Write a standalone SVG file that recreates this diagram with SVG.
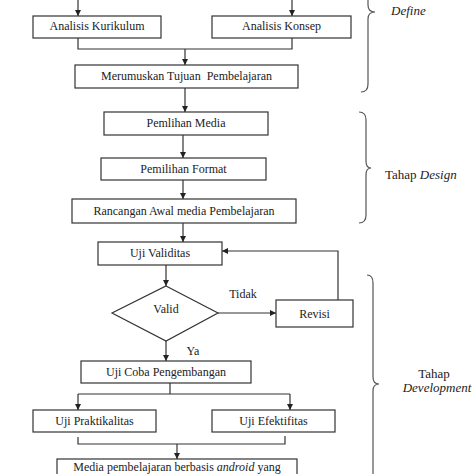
<svg xmlns="http://www.w3.org/2000/svg" width="474" height="474" viewBox="0 0 474 474">
<defs>
<style>
.box{fill:#fff;stroke:#333;stroke-width:1.2}
.t{font-family:"Liberation Serif","Times New Roman",serif;font-size:12px;fill:#222;text-anchor:middle}
.side{font-family:"Liberation Serif","Times New Roman",serif;font-size:13px;fill:#222}
.ln{fill:none;stroke:#333;stroke-width:1.2}
.arr{fill:none;stroke:#333;stroke-width:1.2;marker-end:url(#ah)}
.brace{fill:none;stroke:#555;stroke-width:1.2}
</style>
<marker id="ah" markerWidth="7" markerHeight="7" refX="6" refY="3" orient="auto" markerUnits="userSpaceOnUse">
<path d="M0,0 L6,3 L0,6 z" fill="#222"/>
</marker>
</defs>
<rect width="474" height="474" fill="#fff"/>
<g id="connectors">
<path class="arr" d="M78,0 L78,16"/>
<path class="arr" d="M292,0 L292,16"/>
<path class="ln" d="M78,38 L78,49 L292,49 L292,38"/>
<path class="arr" d="M185,49 L185,65"/>
<path class="arr" d="M185,88 L185,112"/>
<path class="arr" d="M183,135 L183,158"/>
<path class="arr" d="M183,180 L183,199"/>
<path class="arr" d="M183,223 L183,242"/>
<path class="arr" d="M166,265 L166,286"/>
<path class="arr" d="M218,313 L276,313"/>
<path class="arr" d="M338,300 L338,251 L222,251"/>
<path class="arr" d="M166,341 L166,361"/>
<path class="ln" d="M170,383 L170,394 M78,394 L290,394"/>
<path class="arr" d="M78,394 L78,410"/>
<path class="arr" d="M290,394 L290,410"/>
<path class="ln" d="M78,437 L78,444 L285,444 L285,436"/>
<path class="arr" d="M177,444 L177,459"/>
</g>
<g id="n-kurikulum"><rect class="box" x="33" y="16" width="128" height="22"/><text class="t" x="97" y="30">Analisis Kurikulum</text></g>
<g id="n-konsep"><rect class="box" x="212" y="16" width="139" height="22"/><text class="t" x="281.5" y="30">Analisis Konsep</text></g>
<g id="n-tujuan"><rect class="box" x="75" y="65" width="223" height="23"/><text class="t" x="186.5" y="80" xml:space="preserve">Merumuskan Tujuan  Pembelajaran</text></g>
<g id="n-media"><rect class="box" x="104" y="112" width="164" height="23"/><text class="t" x="186" y="127">Pemlihan Media</text></g>
<g id="n-format"><rect class="box" x="101" y="158" width="165" height="22"/><text class="t" x="183.5" y="173">Pemilihan Format</text></g>
<g id="n-rancangan"><rect class="box" x="72" y="199" width="224" height="24"/><text class="t" x="184" y="215">Rancangan Awal media Pembelajaran</text></g>
<g id="n-validitas"><rect class="box" x="98" y="242" width="124" height="23"/><text class="t" x="160" y="257">Uji Validitas</text></g>
<g id="n-valid"><path class="box" d="M166,286 L218,313 L166,341 L112,313 Z"/><text class="t" x="166" y="313">Valid</text></g>
<g id="n-revisi"><rect class="box" x="276" y="300" width="77" height="27"/><text class="t" x="314.5" y="318">Revisi</text></g>
<g id="labels"><text class="t" x="243" y="298">Tidak</text><text class="t" x="193" y="355">Ya</text></g>
<g id="n-ujicoba"><rect class="box" x="81" y="361" width="170" height="22"/><text class="t" x="166" y="376">Uji Coba Pengembangan</text></g>
<g id="n-praktikalitas"><rect class="box" x="33" y="410" width="123" height="22"/><text class="t" x="94.5" y="425">Uji Praktikalitas</text></g>
<g id="n-efektifitas"><rect class="box" x="212" y="410" width="123" height="22"/><text class="t" x="273.5" y="425">Uji Efektifitas</text></g>
<g id="n-final"><rect class="box" x="57" y="459" width="240" height="40"/><text class="t" x="177" y="471">Media pembelajaran berbasis <tspan font-style="italic">android</tspan> yang</text></g>
<g id="stages">
<path class="brace" d="M368,-10 L368,5 Q368,12 375,12 Q368,12 368,19 L368,84 Q368,92 361,92"/>
<text class="side" x="391" y="15" font-style="italic">Define</text>
<path class="brace" d="M359,112 Q366,112 366,120 L366,161 Q366,168 371,168 Q366,168 366,175 L366,215 Q366,223 359,223"/>
<text class="side" x="385" y="179">Tahap <tspan font-style="italic">Design</tspan></text>
<path class="brace" d="M367,275 Q373,275 373,283 L373,377 Q373,384 379,384 Q373,384 373,391 L373,480"/>
<text class="side" x="434" y="378" text-anchor="middle">Tahap</text>
<text class="side" x="437" y="392" text-anchor="middle" font-style="italic">Development</text>
</g>
</svg>
